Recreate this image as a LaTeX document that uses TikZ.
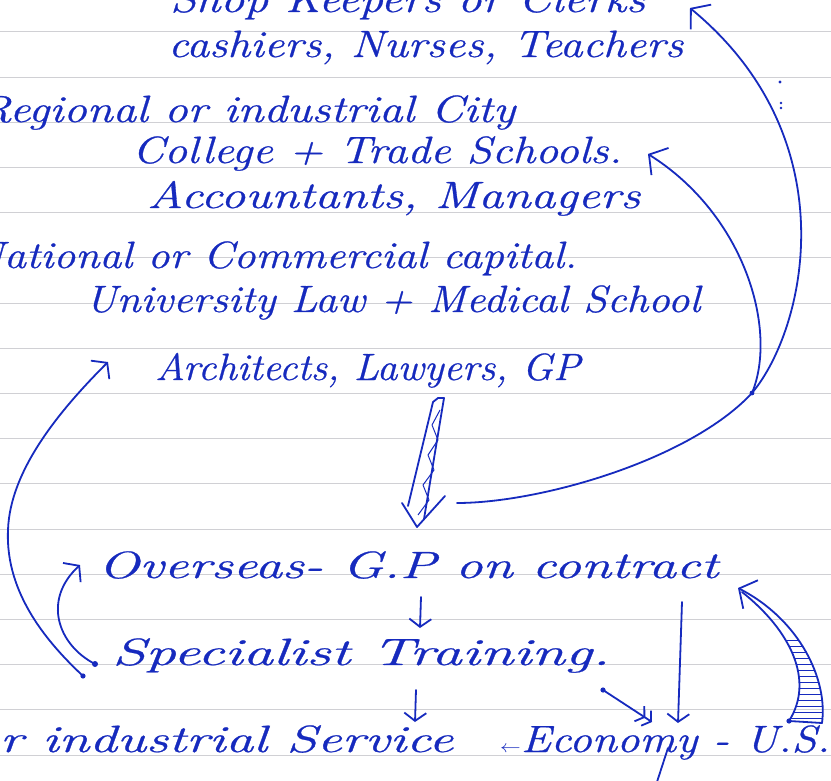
\documentclass[tikz,border=0pt]{standalone}
\usepackage{fontspec}
\usepackage{graphicx}
\usetikzlibrary{arrows.meta}

\definecolor{ink}{RGB}{22,42,190}
\definecolor{ruling}{RGB}{208,208,212}

% pen-weight italic for the notes
\newfontfamily\handfam{Latin Modern Roman}[ItalicFeatures={FakeBold=0.6}]
\newcommand\handfont{\handfam\fontsize{38}{40}\selectfont\itshape}
% one line of notes, stretched to a given width
\newcommand\hw[2]{\resizebox{#1}{\height}{\handfont #2}}

\begin{document}
\begin{tikzpicture}[x=1pt,y=-1pt,
  inkline/.style={draw=ink, line width=1.8pt, line cap=round, line join=round},
  txt/.style={inner sep=0pt, anchor=base west, text=ink},
  barb/.style={-{Straight Barb[length=13pt,width=32pt,line width=1.8pt]}},
  smallbarb/.style={-{Straight Barb[length=8pt,width=22pt,line width=1.8pt]}},
  hook/.style={-{Straight Barb[length=10pt,width=26pt,line width=1.8pt]}},
]
\clip (0,0) rectangle (831,781);
\fill[white] (0,0) rectangle (831,781);

% ruled paper
\foreach \k in {0,...,16}
  \draw[ruling, line width=1pt] (0,{32+45.19*\k}) -- (831,{32+45.19*\k});

% lines of notes
\node[txt] (shop) at (170,12)  {\hw{475pt}{Shop Keepers or Clerks}};
\node[txt] (cash) at (168,57)  {\hw{515pt}{cashiers, Nurses, Teachers}};
\node[txt] (reg)  at (-22,122) {\hw{537pt}{Regional or industrial City}};
\node[txt] (coll) at (132,163) {\hw{490pt}{College + Trade Schools.}};
\node[txt] (acc)  at (147,208) {\hw{493pt}{Accountants, Managers}};
\node[txt] (nat)  at (-28,268) {\hw{605pt}{National or Commercial capital.}};
\node[txt] (uni)  at (85,312)  {\hw{615pt}{University Law + Medical School}};
\node[txt] (arch) at (155,380) {\hw{425pt}{Architects, Lawyers, GP}};
\node[txt] (over) at (98,578)  {\hw{620pt}{Overseas- G.P on contract}};
\node[txt] (spec) at (112,665) {\hw{498pt}{Specialist Training.}};
\node[txt] (serv) at (-28,752) {\hw{481pt}{or industrial Service}};
\node[txt] (eco)  at (500,752) {\hw{330pt}{{\fontsize{18}{18}\selectfont$\leftarrow$}Economy - U.S.}};

% end points of the connectors
\coordinate (bigtop)   at (438,398);
\coordinate (bigtip)   at (417,527);
\coordinate (bstart)   at (457,503);
\coordinate (fork)     at (752,393);
\coordinate (schtip)   at (648,154);
\coordinate (teachtip) at (690,8);
\coordinate (specdotA) at (95,664);
\coordinate (overtip)  at (80,565);
\coordinate (specdotB) at (83,676);
\coordinate (archtip)  at (108,362);
\coordinate (trdot)    at (603,690);
\coordinate (ecotip)   at (652,722);
\coordinate (usbase)   at (789,721);
\coordinate (usouter)  at (822,723);
\coordinate (conttip)  at (738,588);

% hollow hatched arrow below the professions
\draw[inkline] (433,402) -- (408,506);
\draw[inkline] (444,398) -- (424,519);
\draw[inkline] (433,402) -- (bigtop) -- (444,398);
\draw[inkline] (402,503) -- (bigtip) -- (445,496);
\draw[ink, line width=1pt, line join=round]
  (440,410) -- (432,425) -- (438,440) -- (428,455) -- (434,470)
  -- (423,485) -- (429,500) -- (418,515);

% return loop to the upper tiers
\draw[inkline] (bstart) .. controls (540,503) and (690,460) .. (fork);
\draw[inkline, barb] (fork) .. controls (778,330) and (745,215) .. (schtip);
\draw[inkline, barb] (fork) .. controls (805,330) and (850,140) .. (teachtip);
\fill[ink] (fork) circle (2.4);
\fill[ink] (780,82) circle (1.6);
\fill[ink] (781,103) circle (1.4);
\fill[ink] (781,108) circle (1.4);

% loops on the left
\fill[ink] (specdotA) circle (3);
\draw[inkline, hook] (specdotA) .. controls (58,645) and (42,600) .. (overtip);
\fill[ink] (specdotB) circle (2.6);
\draw[inkline, hook] (specdotB) .. controls (50,645) and (5,595) .. (8,530)
  .. controls (10,470) and (60,410) .. (archtip);

% down the middle
\draw[inkline, smallbarb] (421,597) -- (420,628);
\draw[inkline, smallbarb] (416,690) -- (415,722);

% into the economy
\draw[inkline, smallbarb] (682,602) -- (678,723);
\fill[ink] (trdot) circle (2.6);
\draw[inkline, -{Straight Barb[length=6pt,width=18pt,line width=1.8pt] Straight Barb[length=6pt,width=18pt,line width=1.8pt]}]
  (trdot) -- (ecotip);
\draw[inkline] (668,748) -- (656,785);

% broad hatched arrow from U.S. back to contract
\begin{scope}
  \clip (usouter) .. controls (828,680) and (800,620) .. (conttip)
        -- (742,592) .. controls (790,630) and (815,680) .. (usbase) -- cycle;
  \foreach \yy in {640,646,...,718}
    \draw[ink, line width=0.9pt] (760,\yy) -- (840,\yy);
\end{scope}
\draw[inkline, barb] (usouter) .. controls (828,680) and (800,620) .. (conttip);
\draw[inkline] (usbase) .. controls (815,680) and (790,630) .. (742,592);
\draw[inkline] (usbase) -- (usouter);
\fill[ink] (usbase) circle (2.6);
\end{tikzpicture}
\end{document}
